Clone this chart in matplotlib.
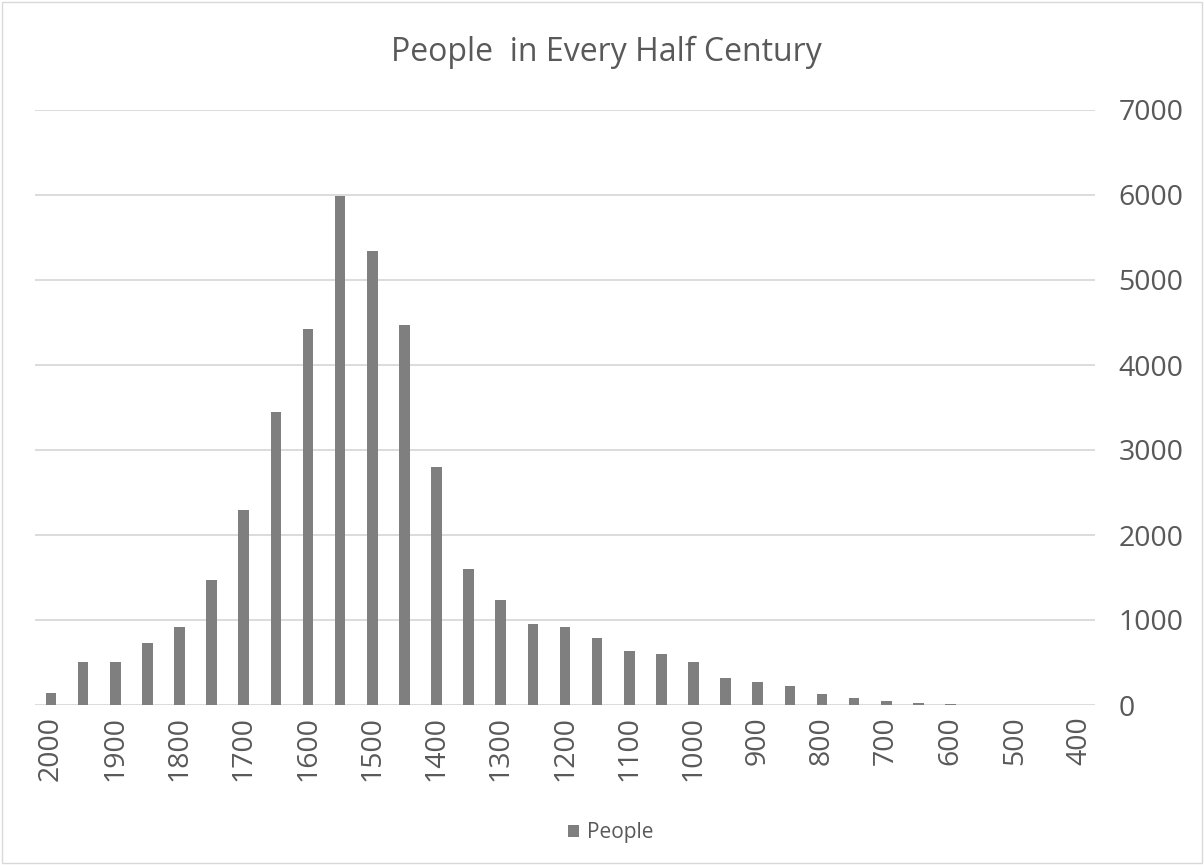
import matplotlib.pyplot as plt
from matplotlib.patches import Rectangle

# данные: годы с шагом 50 и число людей
years = list(range(2000, 399, -50))
people = [140, 505, 505, 735, 918, 1470, 2295, 3447, 4424, 5988,
          5341, 4470, 2800, 1605, 1240, 955, 915, 785, 640, 600,
          505, 320, 272, 228, 135, 86, 43, 22, 10, 5, 0, 0, 0]
tick_labels = [str(y) for y in years[::2]]

plt.rcParams['font.family'] = ['Open Sans', 'DejaVu Sans']
text_col = '#595959'
grid_col = '#d9d9d9'

fig = plt.figure(figsize=(12.04, 8.65), dpi=100)
ax = fig.add_axes([35 / 1204, 1 - 705 / 865, 1060 / 1204, 595 / 865])

x = list(range(len(years)))
ax.bar(x, people, width=0.33, color='#7f7f7f', label='People', zorder=3)

ax.set_xlim(-0.5, len(years) - 0.5)
ax.set_ylim(0, 7000)
ax.set_yticks(range(0, 7001, 1000))
ax.set_xticks(x[::2])
ax.set_xticklabels(tick_labels, rotation=90, fontsize=20.5, color=text_col)

ax.yaxis.tick_right()
ax.tick_params(axis='y', length=0, pad=17, labelsize=20.5, labelcolor=text_col)
ax.tick_params(axis='x', length=0, pad=8)
ax.grid(axis='y', color=grid_col, linewidth=1.3, zorder=0)
for s in ax.spines.values():
    s.set_visible(False)

fig.text(0.504, 1 - 52 / 865, 'People  in Every Half Century', ha='center', va='center',
         fontsize=23, color=text_col)
ax.legend(loc='center', bbox_to_anchor=(0.543, -0.215), frameon=False, fontsize=15,
          labelcolor=text_col, handlelength=0.55, handleheight=0.55, handletextpad=0.35)

# рамка вокруг диаграммы
fig.patches.append(Rectangle((0.002, 0.002), 0.996, 0.996, transform=fig.transFigure,
                             fill=False, edgecolor=grid_col, linewidth=1))

fig.savefig('out.png', dpi=100)
